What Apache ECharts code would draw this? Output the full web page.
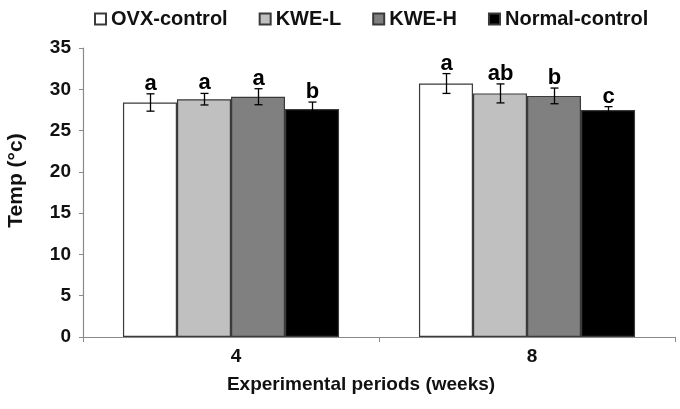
<!DOCTYPE html>
<html>
<head>
<meta charset="utf-8">
<script src="https://cdn.jsdelivr.net/npm/echarts@6/dist/echarts.min.js"></script>
<style>
  html, body { margin: 0; padding: 0; background: #fff; }
  #chart { width: 680px; height: 409px; }
</style>
</head>
<body>
<div id="chart"></div>
<script>
    // data
    var categories = ['4', '8'];
    var seriesNames = ['OVX-control', 'KWE-L', 'KWE-H', 'Normal-control'];
    var barColors = ['#ffffff', '#c0c0c0', '#808080', '#000000'];

    var ovxMean = [28.4, 30.7];
    var kweLMean = [28.8, 29.5];
    var kweHMean = [29.1, 29.2];
    var normalMean = [27.6, 27.5];

    var ovxErr = [1.05, 1.2];
    var kweLErr = [0.7, 1.15];
    var kweHErr = [0.97, 0.95];
    var normalErr = [0.85, 0.4];

    var ovxLetters = ['a', 'a'];
    var kweLLetters = ['a', 'ab'];
    var kweHLetters = ['a', 'b'];
    var normalLetters = ['b', 'c'];

    var yTicks = [0, 5, 10, 15, 20, 25, 30, 35];

    var means = [ovxMean, kweLMean, kweHMean, normalMean];
    var errs = [ovxErr, kweLErr, kweHErr, normalErr];
    var letters = [ovxLetters, kweLLetters, kweHLetters, normalLetters];

    var catGap = 0.27;
    var font = '"Liberation Sans", Arial, sans-serif';

    var chart = echarts.init(document.getElementById('chart'));

    function errorSeries(idx) {
        return {
            type: 'custom',
            name: 'err' + idx,
            z: 5,
            silent: true,
            data: categories.map(function (c, i) {
                return [i, means[idx][i], errs[idx][i]];
            }),
            renderItem: function (params, api) {
                var cat = api.value(0);
                var mean = api.value(1);
                var err = api.value(2);
                var center = api.coord([cat, 0])[0];
                var band = api.size([1, 0])[0];
                var bw = band * (1 - catGap) / 4;
                var x = Math.round(center + (idx - 1.5) * bw) + 0.5;
                var top = api.coord([cat, mean + err])[1];
                var bot = api.coord([cat, mean - err])[1];
                var cap = 4;
                var st = { stroke: '#000', lineWidth: 1.3 };
                return {
                    type: 'group',
                    children: [
                        { type: 'line', shape: { x1: x, y1: top, x2: x, y2: bot }, style: st },
                        { type: 'line', shape: { x1: x - cap, y1: top, x2: x + cap, y2: top }, style: st },
                        { type: 'line', shape: { x1: x - cap, y1: bot, x2: x + cap, y2: bot }, style: st },
                        {
                            type: 'text',
                            style: {
                                x: x,
                                y: top + 1,
                                text: letters[idx][params.dataIndex],
                                align: 'center',
                                verticalAlign: 'bottom',
                                font: 'bold 22px ' + font,
                                fill: '#000'
                            }
                        }
                    ]
                };
            }
        };
    }

    var series = seriesNames.map(function (name, idx) {
        return {
            name: name,
            type: 'bar',
            data: means[idx],
            barGap: '0%',
            barCategoryGap: (catGap * 100) + '%',
            itemStyle: {
                color: barColors[idx],
                borderColor: '#3a3a3a',
                borderWidth: 1.2
            }
        };
    });
    for (var k = 0; k < 4; k++) {
        series.push(errorSeries(k));
    }

    var option = {
        animation: false,
        textStyle: { fontFamily: font },
        legend: {
            data: seriesNames,
            left: 89,
            top: 4,
            icon: 'rect',
            itemWidth: 11,
            itemHeight: 11,
            itemGap: 31,
            textStyle: {
                fontSize: 20,
                fontWeight: 'bold',
                color: '#111',
                fontFamily: font
            }
        },
        grid: {
            left: 83,
            right: 5,
            top: 48,
            bottom: 72,
            outerBoundsMode: 'none'
        },
        xAxis: {
            type: 'category',
            data: categories,
            name: 'Experimental periods (weeks)',
            nameLocation: 'middle',
            nameGap: 38,
            nameTextStyle: {
                fontSize: 19,
                fontWeight: 'bold',
                color: '#111',
                padding: [0, 36, 0, 0]
            },
            axisLine: { lineStyle: { color: '#8a8a8a', width: 1.2 } },
            axisTick: { show: true, length: 5, lineStyle: { color: '#8a8a8a' } },
            axisLabel: {
                fontSize: 19,
                fontWeight: 'bold',
                color: '#111',
                margin: 10,
                padding: [0, 0, 0, 10]
            }
        },
        yAxis: {
            type: 'value',
            min: yTicks[0],
            max: yTicks[yTicks.length - 1],
            interval: 5,
            name: 'Temp (°c)',
            nameLocation: 'middle',
            nameGap: 56,
            nameTextStyle: {
                fontSize: 21,
                fontWeight: 'bold',
                color: '#111',
                padding: [0, 0, 0, 24]
            },
            axisLine: { show: true, lineStyle: { color: '#8a8a8a', width: 1.2 } },
            axisTick: { show: true, length: 4, lineStyle: { color: '#8a8a8a' } },
            axisLabel: {
                fontSize: 19,
                fontWeight: 'bold',
                color: '#111',
                margin: 12
            },
            splitLine: { show: false }
        },
        series: series
    };

    chart.setOption(option);
</script>
</body>
</html>
